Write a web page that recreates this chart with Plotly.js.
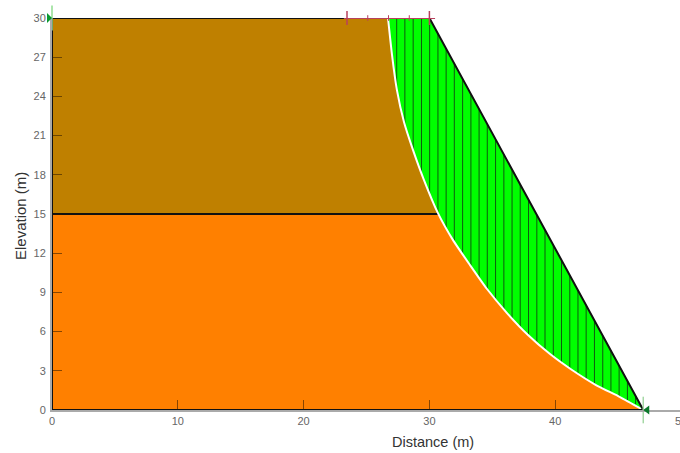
<!DOCTYPE html>
<html>
<head>
<meta charset="utf-8">
<script src="https://cdn.plot.ly/plotly-3.0.1.min.js"></script>
<style>html,body{margin:0;padding:0;width:680px;height:453px;overflow:hidden;background:#fff}</style>
</head>
<body>
<div id="chart" style="width:700px;height:453px"></div>
<script>
var slipX = [26.71,27.03,27.42,27.98,28.7,29.57,30.68,31.88,33.23,34.58,36.17,37.84,39.59,41.34,43.24,45.15,47.0];
var slipY = [30,27.16,24.48,22.04,19.89,17.6,15.07,13.0,11.09,9.26,7.42,5.74,4.28,3.06,1.91,0.99,0];
var upperSlipCount = 7;
var outlineX = [0,0,30,47,0];
var outlineY = [0,30,30,0,0];
var layerX = [0,30.68];
var layerY = [15,15];
var sliceX = [27.4,28.05,28.71,29.37,30.02,30.68,31.33,31.98,32.64,33.3,33.95,34.6,35.26,35.92,36.57,37.22,37.88,38.54,39.19,39.85,40.5,41.16,41.81,42.46,43.12,43.78,44.43,45.08,45.74,46.39];
var sliceBase = [24.5,21.8,19.85,18.1,16.5,15.07,13.95,12.85,11.9,11,10.1,9.25,8.45,7.7,7,6.35,5.7,5.15,4.6,4.1,3.65,3.2,2.77,2.38,1.98,1.65,1.33,1.03,0.74,0.45];
var sliceTop = [30,30,30,30,29.96,28.8,27.65,26.5,25.34,24.18,23.03,21.88,20.72,19.55,18.41,17.26,16.09,14.93,13.78,12.62,11.47,10.31,9.16,8.01,6.85,5.68,4.54,3.39,2.22,1.08];
var entryX = [23.2,30.45];
var entryY = [30,30];
var entryMajorX = [23.45,30];
var entryMinorX = [25.1,26.75,28.4];
var xTicks = [0,10,20,30,40,50];
var yTicks = [0,3,6,9,12,15,18,21,24,27,30];
var xMax = 50;
var toeX = 47;

function gapped(xs, lo, hi) {
  var X = [], Y = [];
  xs.forEach(function (x, i) {
    X.push(x, x, null);
    Y.push(lo[i], hi[i], null);
  });
  return {x: X, y: Y};
}
var sl = gapped(sliceX, sliceBase, sliceTop);
var upX = slipX.slice(0, upperSlipCount), upY = slipY.slice(0, upperSlipCount);
var loX = slipX.slice(upperSlipCount - 1), loY = slipY.slice(upperSlipCount - 1);
var red = '#b8415c';
function bars(xs, y, size, color, w) {
  return {x: xs, y: xs.map(function(){return y;}), mode:'markers', cliponaxis:false, hoverinfo:'skip',
    marker:{symbol:'line-ns', size:size, color:color, line:{color:color, width:w}}};
}

var traces = [
  {x: [0,0].concat(upX), y: [15,30].concat(upY), fill:'toself', fillcolor:'#bf8000', mode:'none', hoverinfo:'skip'},
  {x: [0,0].concat(loX), y: [0,15].concat(loY), fill:'toself', fillcolor:'#ff8000', mode:'none', hoverinfo:'skip'},
  {x: slipX.concat([30]), y: slipY.concat([30]), fill:'toself', fillcolor:'#00ff00', mode:'none', hoverinfo:'skip'},
  {x: sl.x, y: sl.y, mode:'lines', line:{color:'#0f5a0f', width:1}, hoverinfo:'skip'},
  {x: layerX, y: layerY, mode:'lines', line:{color:'#111', width:2}, hoverinfo:'skip'},
  {x: slipX, y: slipY, mode:'lines', line:{color:'#fff', width:2, shape:'spline', smoothing:0.6}, hoverinfo:'skip'},
  {x: outlineX, y: outlineY, mode:'lines', line:{color:'#111', width:2}, cliponaxis:false, hoverinfo:'skip'},
  {x: entryX, y: entryY, mode:'lines', line:{color:red, width:2}, cliponaxis:false, hoverinfo:'skip'},
  bars(entryMajorX, 30, 10, red, 1.5),
  bars(entryMinorX, 30, 4, red, 1),
  bars([0], 30, 18, '#8fdc8f', 1.5),
  bars([toeX], 0, 19, '#a5d8a5', 1.5)
];

var layout = {
  width: 700, height: 453,
  margin: {l:52, r:19, t:18, b:43},
  paper_bgcolor:'#fff', plot_bgcolor:'#fff',
  showlegend:false,
  font:{family:'"Liberation Sans", Arial, sans-serif', color:'#666', size:11},
  xaxis:{range:[0,xMax], tickvals:xTicks, ticktext:xTicks.map(String), ticks:'inside', ticklen:10, tickwidth:1,
    tickcolor:'rgba(40,20,0,0.55)', showgrid:false, zeroline:false, showline:true, linecolor:'#aaa', linewidth:2,
    tickfont:{size:11,color:'#666'}, layer:'above traces'},
  yaxis:{range:[0,30], tickvals:yTicks, ticktext:yTicks.map(String), ticks:'inside', ticklen:10, tickwidth:1,
    tickcolor:'rgba(40,20,0,0.55)', showgrid:false, zeroline:false, showline:true, linecolor:'#aaa', linewidth:2,
    ticklabelstandoff:2, tickfont:{size:11,color:'#666'}, layer:'above traces'},
  shapes:[
    {type:'path', xref:'paper', yref:'paper', xsizemode:'pixel', ysizemode:'pixel', xanchor:0, yanchor:1,
     path:'M-5,-5 L0,0 L-5,5 Z', fillcolor:'#0a9a30', line:{width:0}, layer:'above'},
    {type:'path', xref:'paper', yref:'paper', xsizemode:'pixel', ysizemode:'pixel', xanchor:toeX / xMax, yanchor:0,
     path:'M6,-4.5 L0,0 L6,4.5 Z', fillcolor:'#0a7a2a', line:{width:0}, layer:'above'}
  ],
  annotations:[
    {text:'Distance (m)', xref:'x', yref:'paper', x:30.25, y:0, yshift:-32, yanchor:'middle', xanchor:'center',
     showarrow:false, font:{size:14.5,color:'#333'}},
    {text:'Elevation (m)', xref:'paper', yref:'paper', x:0, xshift:-32, y:0.5, yshift:-2, textangle:-90,
     xanchor:'center', yanchor:'middle', showarrow:false, font:{size:15,color:'#333'}}
  ]
};
Plotly.newPlot('chart', traces, layout, {displayModeBar:false, staticPlot:true});
</script>
</body>
</html>
